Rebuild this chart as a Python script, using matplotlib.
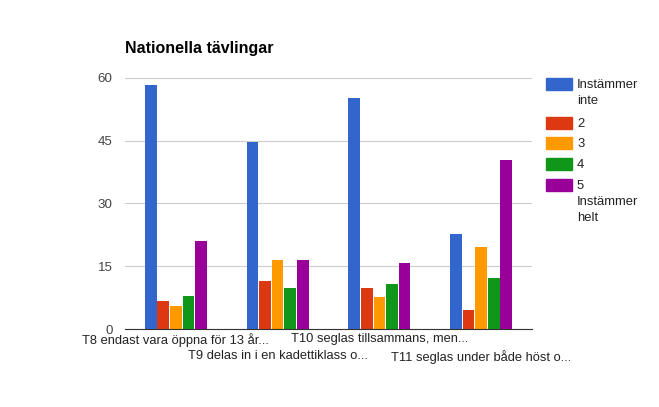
import numpy as np
import matplotlib.pyplot as plt
from matplotlib.patches import Rectangle

plt.rcParams['font.family'] = ['Liberation Sans', 'DejaVu Sans']

# data
questions = ['T8 endast vara öppna för 13 år...',
             'T9 delas in i en kadettiklass o...',
             'T10 seglas tillsammans, men...',
             'T11 seglas under både höst o...']
series_names = ['Instämmer\ninte', '2', '3', '4', '5\nInstämmer\nhelt']
s1 = [58.3, 44.6, 55.2, 22.8]
s2 = [6.8, 11.4, 9.9, 4.5]
s3 = [5.4, 16.5, 7.6, 19.6]
s4 = [7.8, 9.9, 10.8, 12.3]
s5 = [21.1, 16.5, 15.7, 40.3]
colors = ['#3366cc', '#dc3912', '#ff9900', '#109618', '#990099']
yticks = [0, 15, 30, 45, 60]

W, H = 659, 407
fig = plt.figure(figsize=(W / 100, H / 100), dpi=100)
ax = fig.add_axes([125 / W, 1 - 329 / H, 407 / W, 251 / H])

x = np.arange(len(questions))
bw = 0.62 / 5
for i, vals in enumerate([s1, s2, s3, s4, s5]):
    ax.bar(x - 0.31 + bw * (i + 0.5), vals, width=bw * 0.93, color=colors[i], zorder=2)

ax.set_xlim(-0.5, len(questions) - 0.5)
ax.set_ylim(0, 60)
ax.set_yticks(yticks)
ax.set_yticklabels([str(t) for t in yticks], color='#444444', fontsize=9.6)
ax.tick_params(axis='y', length=0, pad=9)
ax.grid(axis='y', color='#cccccc', linewidth=0.8, zorder=0)

# staggered category labels: even ones on first row, odd ones on second row
ax.set_xticks(x[::2])
ax.set_xticklabels(questions[::2], color='#222222', fontsize=9.3)
ax.set_xticks(x[1::2], minor=True)
ax.set_xticklabels(questions[1::2], minor=True, color='#222222', fontsize=9.3)
ax.tick_params(axis='x', which='major', length=0, pad=3)
ax.tick_params(axis='x', which='minor', length=0, pad=15)

for side in ['left', 'right', 'top']:
    ax.spines[side].set_visible(False)
ax.spines['bottom'].set_color('#333333')
ax.spines['bottom'].set_zorder(3)

fig.text(125 / W, 1 - 48 / H, 'Nationella tävlingar', fontsize=11.5,
         fontweight='bold', va='center', ha='left', color='#000000')

# legend
ys = [78, 117, 137, 158, 179]
for i, name in enumerate(series_names):
    y = ys[i]
    fig.patches.append(Rectangle((546 / W, 1 - (y + 12) / H), 26 / W, 12 / H,
                                 transform=fig.transFigure, color=colors[i]))
    fig.text(577 / W, 1 - (y + 1) / H, name, fontsize=9.4, va='top', ha='left',
             color='#222222', linespacing=1.45)

fig.savefig('out.png', dpi=100)
